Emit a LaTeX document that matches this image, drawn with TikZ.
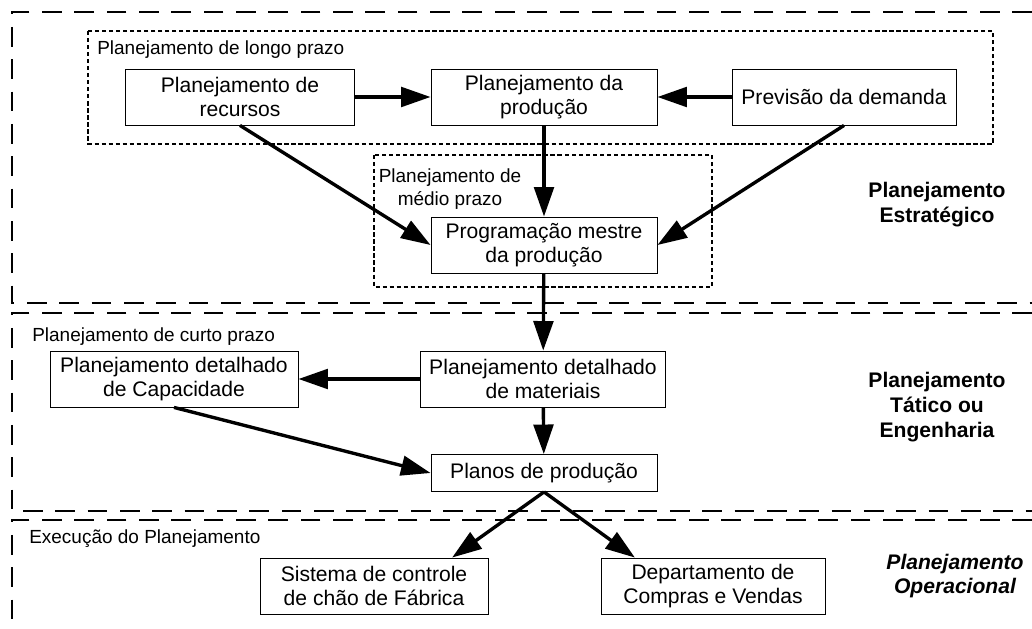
\documentclass[tikz,border=0pt]{standalone}
\usepackage{fontspec}
\setmainfont{Liberation Sans}
\usepackage{tikz}
\usetikzlibrary{arrows.meta}

\tikzset{
caixa/.style={draw, line width=0.6pt, align=center, inner sep=0pt, minimum height=1.4cm,
  font=\fontsize{15}{17.5}\selectfont},
seta/.style={line width=2.4pt, -{Triangle[length=21pt,width=14pt]}},
regiao/.style={line width=2pt, dash pattern=on 14pt off 9pt},
pontilhado/.style={line width=1.3pt, dash pattern=on 3pt off 2pt},
rotulo/.style={inner sep=0pt, font=\fontsize{13.5}{16}\selectfont},
nivel/.style={inner sep=0pt, align=center, font=\fontsize{15}{17.7}\selectfont\bfseries}
}

\begin{document}
\begin{tikzpicture}[x=0.025cm, y=-0.025cm] %[xscale=1.3,yscale=1.3]
\useasboundingbox (0,0) rectangle (1032,629);
\foreach \t/\b in {12/303, 313/511} {
\draw[regiao] (1032,\t) -- (12,\t) -- (12,\b) -- (1032,\b);
}
\draw[regiao] (1032,520) -- (12,520) -- (12,640);
\draw[pontilhado] (88,31) rectangle (993,144);
\draw[pontilhado] (374,155) rectangle (712,287);

\node[rotulo, anchor=west] (longo) at (97,50) {Planejamento de longo prazo};
\node[rotulo, align=center] (medio) at (450,189) {Planejamento de\\médio prazo};
\node[rotulo, anchor=west] (curto) at (32,337) {Planejamento de curto prazo};
\node[rotulo, anchor=west] (execucao) at (29,539) {Execução do Planejamento};

\node[caixa, minimum width=5.725cm] (recursos) at (240,97) {Planejamento de\\recursos};
\node[caixa, minimum width=5.65cm] (producao) at (544,97) {Planejamento da\\produção};
\node[caixa, minimum width=5.6cm] (previsao) at (844,97) {Previsão da demanda};
\node[caixa, minimum width=5.65cm] (mestre) at (544,245) {Programação mestre\\da produção};
\node[caixa, minimum width=6.2cm] (capacidade) at (174,379) {Planejamento detalhado\\de Capacidade};
\node[caixa, minimum width=6.125cm] (materiais) at (543,379) {Planejamento detalhado\\de materiais};
\node[caixa, minimum width=5.65cm, minimum height=0.925cm] (planos) at (544,473) {Planos de produção};
\node[caixa, minimum width=5.7cm] (sistema) at (374,586) {Sistema de controle\\de chão de Fábrica};
\node[caixa, minimum width=5.6cm] (depto) at (713,586) {Departamento de\\Compras e Vendas};

\node[nivel] (estrategico) at (937,205) {Planejamento\\Estratégico};
\node[nivel] (tatico) at (937,407) {Planejamento\\Tático ou\\Engenharia};
\node[nivel, font=\fontsize{15}{17.7}\selectfont\bfseries\itshape] (operacional) at (955,576) {Planejamento\\Operacional};

\draw[seta] (recursos) -- (producao);
\draw[seta] (previsao) -- (producao);
\draw[seta] (recursos.south) -- (mestre.west);
\draw[seta] (previsao.south) -- (mestre.east);
\draw[seta] (producao) -- (mestre);
\draw[seta] (mestre) -- (materiais);
\draw[seta] (materiais) -- (capacidade);
\draw[seta] (materiais) -- (planos);
\draw[seta] (capacidade.south) -- (planos.west);
\draw[seta] (planos.south) -- (sistema.20);
\draw[seta] (planos.south) -- (depto.160);
\end{tikzpicture}
\end{document}
